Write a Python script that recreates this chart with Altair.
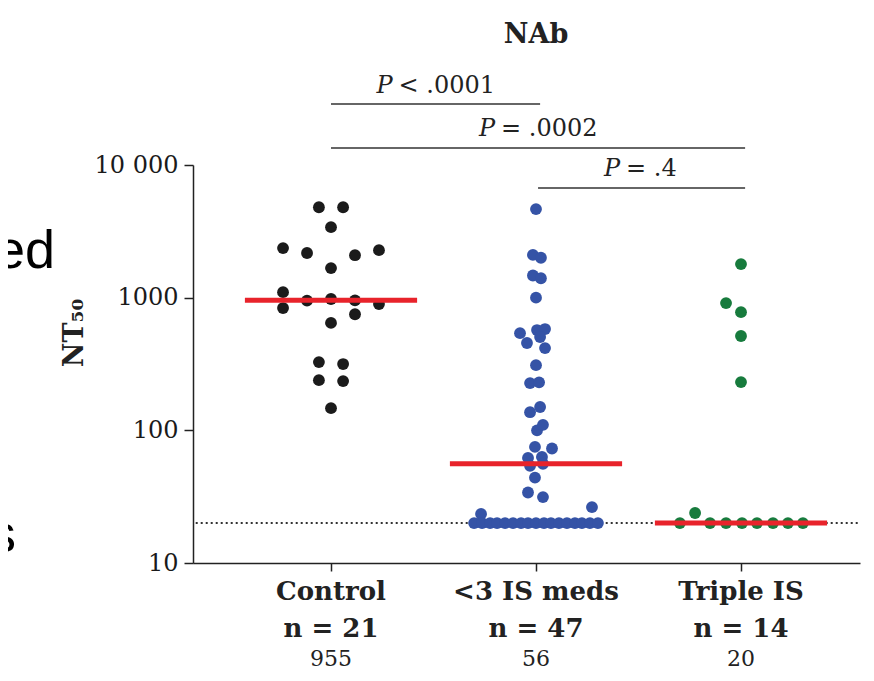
import altair as alt
import pandas as pd

# ---------------- data ----------------
groups = ["Control", "<3 IS meds", "Triple IS"]
n_labels = ["n = 21", "n = 47", "n = 14"]
medians = [955, 56, 20]
group_colors = ["#1b1b1b", "#3553a6", "#177b3d"]

# NT50 values and swarm offsets (in group units) for each group
control_vals = [4800, 4800, 3400, 2365, 2170, 2090, 2280, 1670, 1100, 835, 950,
                977, 955, 750, 895, 645, 327, 316, 239, 235, 147]
control_dx = [-0.059, 0.059, 0.0, -0.234, -0.117, 0.117, 0.234, 0.0, -0.234, -0.234, -0.117,
              0.0, 0.117, 0.117, 0.234, 0.0, -0.059, 0.059, -0.059, 0.059, 0.0]

blue_vals = [4650, 2100, 2000, 1470, 1400, 1000, 540, 570, 580, 455, 505, 417,
             310, 227, 230, 137, 150, 100, 110, 75, 73, 62, 63, 54, 56, 44,
             34, 31.4, 26.4, 23.4,
             20, 20, 20, 20, 20, 20, 20, 20, 20, 20, 20, 20, 20, 20, 20, 20, 20]
blue_dx = [0.0, -0.015, 0.024, -0.015, 0.024, 0.0, -0.078, 0.005, 0.044, -0.044, 0.02, 0.044,
           0.0, -0.029, 0.015, -0.029, 0.02, 0.005, 0.034, -0.005, 0.078, -0.039, 0.029, -0.029, 0.034, -0.005,
           -0.039, 0.034, 0.273, -0.268,
           -0.302, -0.263, -0.224, -0.19, -0.151, -0.112, -0.073, -0.039, 0.0,
           0.039, 0.073, 0.112, 0.151, 0.19, 0.224, 0.263, 0.302]

green_vals = [1790, 910, 778, 514, 231, 23.8, 20, 20, 20, 20, 20, 20, 20, 20]
green_dx = [0.0, -0.073, 0.0, 0.0, 0.0, -0.224, -0.298, -0.151, -0.073, 0.005, 0.078, 0.156, 0.229, 0.302]

p_texts = ["< .0001", "= .0002", "= .4"]
p_from = [0, 0, 1]
p_to = [1, 2, 2]

# ---------------- tables ----------------
rows = []
for gi, (vals, dxs) in enumerate([(control_vals, control_dx), (blue_vals, blue_dx), (green_vals, green_dx)]):
    for v, d in zip(vals, dxs):
        rows.append({"group": groups[gi], "x": gi + d, "v": v})
pts = pd.DataFrame(rows)

med = pd.DataFrame({"group": groups, "x": [i - 0.42 for i in range(3)],
                    "x2": [i + 0.42 for i in range(3)], "v": medians})

labels = pd.DataFrame({"x": [0, 1, 2], "name": groups, "n": n_labels,
                       "m": [str(m) for m in medians]})

brackets = pd.DataFrame({"x": [p_from[0], p_from[1], p_from[2] + 0.01],
                         "x2": [p_to[0] + 0.02, p_to[1] + 0.02, p_to[2] + 0.02],
                         "ypx": [-61, -17, 23]})
ptxt = pd.DataFrame({"x": [0.31, 0.81, 1.42], "t": p_texts, "ypx": [-72, -29, 11]})

xscale = alt.Scale(domain=[-0.6732, 2.5805], nice=False, zero=False)
yscale = alt.Scale(type="log", domain=[10, 10000], nice=False)

SERIF = "DejaVu Serif"

points = alt.Chart(pts).mark_circle(size=140, opacity=1).encode(
    x=alt.X("x:Q", scale=xscale,
            axis=alt.Axis(values=[0, 1, 2], labels=False, title=None, grid=False,
                          ticks=True, tickSize=8, tickColor="#222", domainColor="#222",
                          domainWidth=1.5, tickWidth=1.5)),
    y=alt.Y("v:Q", scale=yscale,
            axis=alt.Axis(values=[10, 100, 1000, 10000], title=None, grid=False,
                          labelExpr="datum.value == 10000 ? '10 000' : format(datum.value, 'd')",
                          tickSize=9, tickColor="#222", domainColor="#222", domainWidth=1.5,
                          tickWidth=1.5, labelFont=SERIF, labelFontSize=24, labelColor="#1a1a1a",
                          labelPadding=6)),
    color=alt.Color("group:N", scale=alt.Scale(domain=groups, range=group_colors), legend=None),
)

dotted = alt.Chart(pd.DataFrame({"x": [-0.66], "x2": [2.57], "v": [20]})).mark_rule(
    color="#333", strokeWidth=2, strokeDash=[2, 3]
).encode(x="x:Q", x2="x2:Q", y="v:Q")

medlines = alt.Chart(med).mark_rule(color="#e8232b", strokeWidth=5).encode(
    x="x:Q", x2="x2:Q", y="v:Q")

brk = alt.Chart(brackets).mark_rule(color="#333", strokeWidth=1.5, clip=False).encode(
    x="x:Q", x2="x2:Q", y=alt.Y("ypx:Q", scale=None))

p_italic = alt.Chart(ptxt).mark_text(text="P", font=SERIF, fontSize=24, fontStyle="italic",
                                     align="right", baseline="alphabetic", color="#222", dx=-2).encode(
    x="x:Q", y=alt.Y("ypx:Q", scale=None))
p_rest = alt.Chart(ptxt).mark_text(font=SERIF, fontSize=24, align="left",
                                   baseline="alphabetic", color="#222", dx=4).encode(
    x="x:Q", y=alt.Y("ypx:Q", scale=None), text="t:N")

title = alt.Chart(pd.DataFrame({"x": [1.0], "t": ["NAb"]})).mark_text(
    font=SERIF, fontSize=27, fontWeight="bold", color="#222", baseline="middle").encode(
    x="x:Q", y=alt.value(-130), text="t:N")

lab1 = alt.Chart(labels).mark_text(font=SERIF, fontSize=26, fontWeight="bold", color="#222",
                                   baseline="middle").encode(x="x:Q", y=alt.value(427), text="name:N")
lab2 = alt.Chart(labels).mark_text(font=SERIF, fontSize=26, fontWeight="bold", color="#222",
                                   baseline="middle").encode(x="x:Q", y=alt.value(464), text="n:N")
lab3 = alt.Chart(labels).mark_text(font=SERIF, fontSize=22, color="#222",
                                   baseline="middle").encode(x="x:Q", y=alt.value(494), text="m:N")

ytitle = alt.Chart(pd.DataFrame({"t": ["NT₅₀"]})).mark_text(
    font=SERIF, fontSize=27, fontWeight="bold", angle=270, color="#222", baseline="middle").encode(
    x=alt.value(-118), y=alt.value(168), text="t:N")

# stray slide text in the background
bg = alt.Chart(pd.DataFrame({"t": ["ed", "s"], "px": [-138, -177], "py": [103, 387]})).mark_text(
    font="Liberation Sans", fontSize=54, align="right", baseline="alphabetic", color="#000").encode(
    x=alt.X("px:Q", scale=None), y=alt.Y("py:Q", scale=None), text="t:N")

chart = alt.layer(dotted, points, medlines, brk, p_italic, p_rest, title, lab1, lab2, lab3, ytitle, bg).properties(
    width=667, height=398,
    padding={"left": 185, "top": 157, "right": 4, "bottom": 110},
    autosize=alt.AutoSizeParams(type="none"),
).configure_view(stroke=None)

chart.save("out.html", embed_options={"renderer": "svg", "actions": False})
